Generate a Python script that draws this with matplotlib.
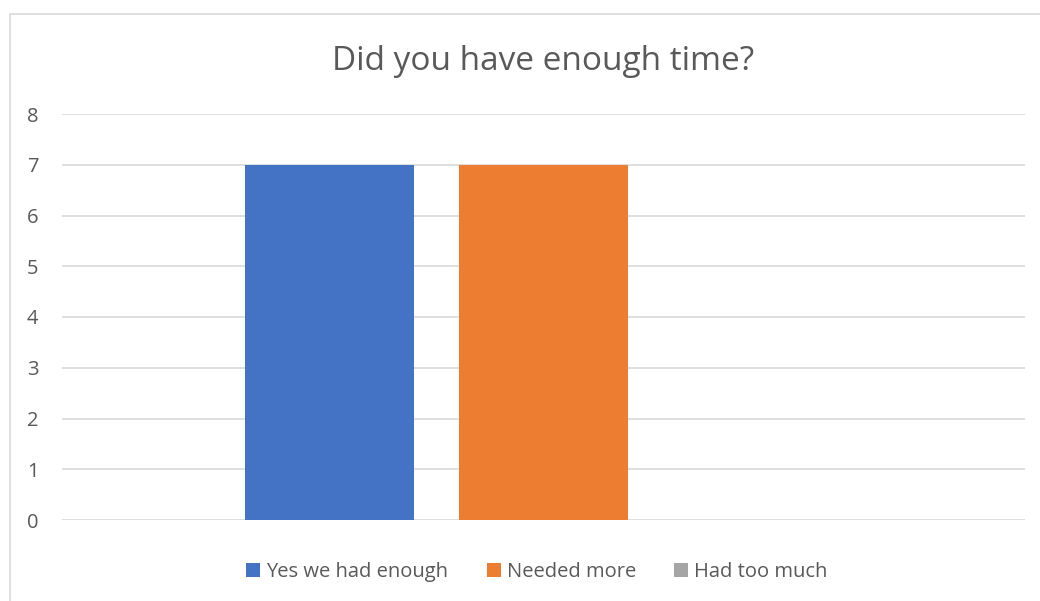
import matplotlib.pyplot as plt
from matplotlib.patches import Rectangle

series = ["Yes we had enough", "Needed more", "Had too much"]
counts = [7, 7, 0]
colors = ["#4472C4", "#ED7D31", "#A5A5A5"]

plt.rcParams['font.family'] = ['Open Sans', 'DejaVu Sans']
text_color = "#595959"

fig = plt.figure(figsize=(10.4, 6.01), dpi=100)
ax = fig.add_axes([62 / 1040, 1 - 520 / 601, 963 / 1040, 406 / 601])

# chart frame, only the top and left edges fall inside the image
fig.patches.append(Rectangle((10 / 1040, -0.1), 1.2, 1 - 14 / 601 + 0.1,
                             transform=fig.transFigure, fill=False,
                             edgecolor="#D9D9D9", linewidth=1.2))

width = 0.1755
step = 0.2222
for i, (name, val, c) in enumerate(zip(series, counts, colors)):
    ax.bar((i - 1) * step, val, width=width, color=c, label=name, zorder=3)

ax.set_xlim(-0.5, 0.5)
ax.set_ylim(0, 8)
ax.set_yticks(range(0, 9))
ax.set_xticks([])
ax.yaxis.grid(True, color="#D9D9D9", linewidth=1.2, zorder=0)
for s in ax.spines.values():
    s.set_visible(False)
ax.tick_params(axis='y', length=0, pad=17, labelsize=14.5, labelcolor=text_color)

fig.text(543.5 / 1040, 1 - 61 / 601, "Did you have enough time?", ha="center",
         va="center", fontsize=24, color=text_color)

fig.legend(loc="center", bbox_to_anchor=(537 / 1040, 1 - 572 / 601), ncol=3,
           frameon=False, fontsize=14.5, labelcolor=text_color, handlelength=0.7,
           handleheight=0.7, handletextpad=0.3, columnspacing=1.9)

fig.savefig("out.png", dpi=100, facecolor="white")
